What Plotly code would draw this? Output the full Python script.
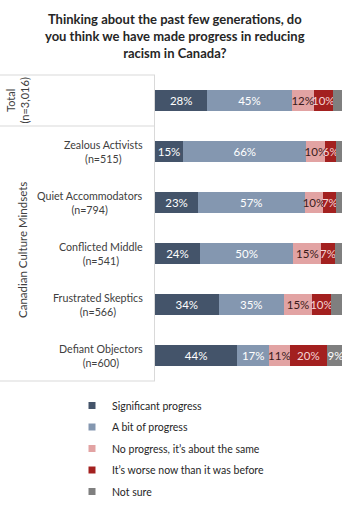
import plotly.graph_objects as go

categories = ["Total", "Zealous Activists", "Quiet Accommodators", "Conflicted Middle",
              "Frustrated Skeptics", "Defiant Objectors"]
sample_sizes = ["(n=3,016)", "(n=515)", "(n=794)", "(n=541)", "(n=566)", "(n=600)"]

series_names = ["Significant progress", "A bit of progress", "No progress, it\u2019s about the same",
                "It\u2019s worse now than it was before", "Not sure"]
significant = [28, 15, 23, 24, 34, 44]
a_bit = [45, 66, 57, 50, 35, 17]
no_progress = [12, 10, 10, 15, 15, 11]
worse = [10, 6, 7, 7, 10, 20]
not_sure = [5, 3, 3, 4, 6, 9]

title_text = ("Thinking about the past few generations, do<br>"
              "you think we have made progress in reducing<br>racism in Canada?")
group_label = "Canadian Culture Mindsets"

series_values = [significant, a_bit, no_progress, worse, not_sure]
colors = ["#44546A", "#8497B0", "#E2A3A3", "#A3201F", "#7F7F7F"]
text_colors = ["white", "white", "#3A1A1A", "#F4D5D5", "white"]

FONT = "Lato"
W, H = 350, 507
ML, MR, MT, MB = 155, 8, 75, 126
plot_w = W - ML - MR
plot_h = H - MT - MB


def px_to_paper_y(py):
    return (H - MB - py) / plot_h


def px_to_paper_x(px):
    return (px - ML) / plot_w


fig = go.Figure()
for i, (name, vals) in enumerate(zip(series_names, series_values)):
    if i == 4:
        texts = [f"{v}%" if v >= 8 else "" for v in vals]
    else:
        texts = [f"{v}%" for v in vals]
    fig.add_trace(go.Bar(
        y=categories, x=vals, orientation="h", name=name,
        marker=dict(color=colors[i], line=dict(width=0)),
        text=texts, textposition="inside", insidetextanchor="middle",
        textangle=0,
        textfont=dict(color=text_colors[i], size=11.5, family=FONT),
        showlegend=False, hoverinfo="skip",
    ))
    fig.add_trace(go.Scatter(
        x=[None], y=[None], mode="markers", name=name,
        marker=dict(symbol="square", size=7, color=colors[i]),
        legendgroup=f"g{i}", showlegend=True,
    ))

fig.update_layout(
    barmode="stack", bargap=0.6,
    width=W, height=H,
    margin=dict(l=ML, r=MR, t=MT, b=MB, autoexpand=False),
    paper_bgcolor="white", plot_bgcolor="white",
    font=dict(family=FONT, color="#404040", size=11),
    xaxis=dict(range=[0, 100], showgrid=False, showticklabels=False, zeroline=False,
               showline=False, ticks="", fixedrange=True, automargin=False),
    yaxis=dict(autorange="reversed", showticklabels=False, ticks="", showgrid=False,
               showline=True, linecolor="#D9D9D9", linewidth=1, fixedrange=True,
               automargin=False),
    legend=dict(xref="paper", yref="paper", x=px_to_paper_x(72),
                y=px_to_paper_y(391),
                xanchor="left", yanchor="top", tracegroupgap=2.5,
                font=dict(size=10.5, color="#262626", family=FONT),
                bgcolor="rgba(0,0,0,0)", itemwidth=30),
    uniformtext=dict(minsize=11.5, mode="show"),
)

# title
fig.add_annotation(x=px_to_paper_x(W / 2), xref="paper", xanchor="center",
                   y=px_to_paper_y(9), yref="paper", yanchor="top",
                   text=f"<b>{title_text}</b>", showarrow=False, align="center",
                   font=dict(family=FONT, size=13, color="#262626"))

left_paper = -ML / plot_w
for yp in [1.0, 5 / 6, 0.0]:
    fig.add_shape(type="line", xref="paper", yref="paper", x0=left_paper, x1=0,
                  y0=yp, y1=yp, line=dict(color="#D9D9D9", width=1))

for cat, n in zip(categories[1:], sample_sizes[1:]):
    fig.add_annotation(x=0, xref="paper", y=cat, yref="y", xanchor="right", xshift=-10,
                       text=f"{cat}<br>{n}", showarrow=False, align="center",
                       font=dict(size=10.7, color="#404040", family=FONT))

fig.add_annotation(x=px_to_paper_x(17), xref="paper", xanchor="center",
                   y=11 / 12, yref="paper", yanchor="middle",
                   text=f"{categories[0]}<br>{sample_sizes[0]}", textangle=-90,
                   showarrow=False, align="center",
                   font=dict(size=11, color="#404040", family=FONT))
fig.add_annotation(x=px_to_paper_x(22), xref="paper", xanchor="center",
                   y=px_to_paper_y(250), yref="paper", yanchor="middle",
                   text=group_label, textangle=-90, showarrow=False,
                   font=dict(size=11.5, color="#404040", family=FONT))

fig.write_html("out.html")
